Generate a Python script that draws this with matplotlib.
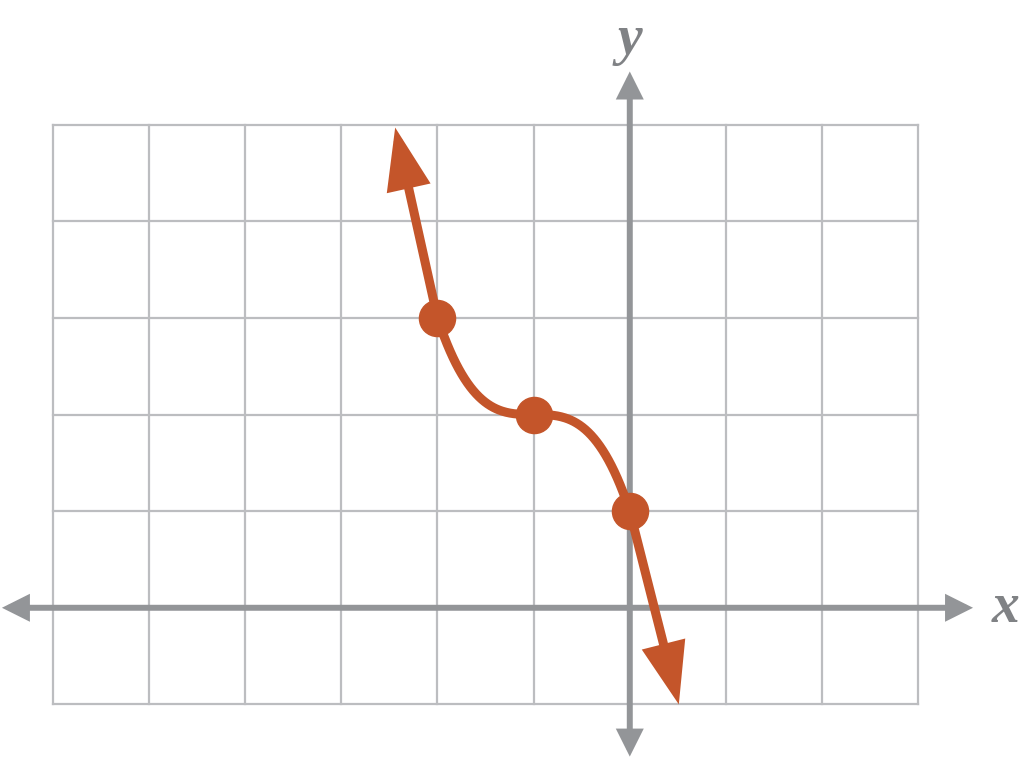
import numpy as np
import matplotlib
matplotlib.use("Agg")
import matplotlib.pyplot as plt

# grid extent (data units)
grid_x = [-6, -5, -4, -3, -2, -1, 0, 1, 2, 3]
grid_y = [-1, 0, 1, 2, 3, 4, 5]

# marked points on the curve
points_x = [-2, -1, 0]
points_y = [3, 2, 1]

# where the two curve arrows end
arrow_up_tip = (-2.44, 4.97)
arrow_down_tip = (0.51, -1.0)

# axis arrow extents
x_axis_ends = (-6.53, 3.57)
y_axis_ends = (-1.54, 5.55)

ORANGE = "#C4552A"
GRID = "#BCBDC0"
AXIS = "#939598"
LABEL = "#808285"

fig = plt.figure(figsize=(10.24, 7.59), dpi=100)
ax = fig.add_axes([0, 0, 1, 1])
ax.set_xlim(-6.55, 4.10)
ax.set_ylim(-1.565, 6.29)
ax.axis("off")

# grid
for gx in grid_x:
    ax.plot([gx, gx], [grid_y[0], grid_y[-1]], color=GRID, lw=1.6, zorder=1)
for gy in grid_y:
    ax.plot([grid_x[0], grid_x[-1]], [gy, gy], color=GRID, lw=1.6, zorder=1)

# axes with arrowheads
axis_style = "<|-|>,head_length=0.6,head_width=0.3"
for start, end in [((x_axis_ends[0], 0), (x_axis_ends[1], 0)),
                   ((0, y_axis_ends[0]), (0, y_axis_ends[1]))]:
    ax.annotate("", xy=end, xytext=start,
                arrowprops=dict(arrowstyle=axis_style, color=AXIS, lw=4.3,
                                mutation_scale=22, shrinkA=0, shrinkB=0,
                                joinstyle="miter", capstyle="butt"), zorder=2)

ax.text(3.91, 0, "x", fontsize=40, family="Liberation Serif", style="italic",
        weight="bold", color=LABEL, ha="center", va="center")
ax.text(0, 5.88, "y", fontsize=40, family="Liberation Serif", style="italic",
        weight="bold", color=LABEL, ha="center", va="center")

# the cubic through the marked points
xs = np.linspace(points_x[0], points_x[-1], 200)
ys = -(xs + 1) ** 3 + 2
ax.plot(xs, ys, color=ORANGE, lw=6.5, solid_capstyle="round", zorder=3)

curve_style = "-|>,head_length=0.5,head_width=0.18"
for start, tip in [((points_x[0], points_y[0]), arrow_up_tip),
                   ((points_x[-1], points_y[-1]), arrow_down_tip)]:
    ax.annotate("", xy=tip, xytext=start,
                arrowprops=dict(arrowstyle=curve_style, color=ORANGE, lw=6.5,
                                mutation_scale=64, shrinkA=0, shrinkB=0,
                                joinstyle="miter", capstyle="butt"), zorder=3)

ax.plot(points_x, points_y, "o", color=ORANGE, markersize=26, zorder=4)

fig.savefig("out.png", dpi=100)
